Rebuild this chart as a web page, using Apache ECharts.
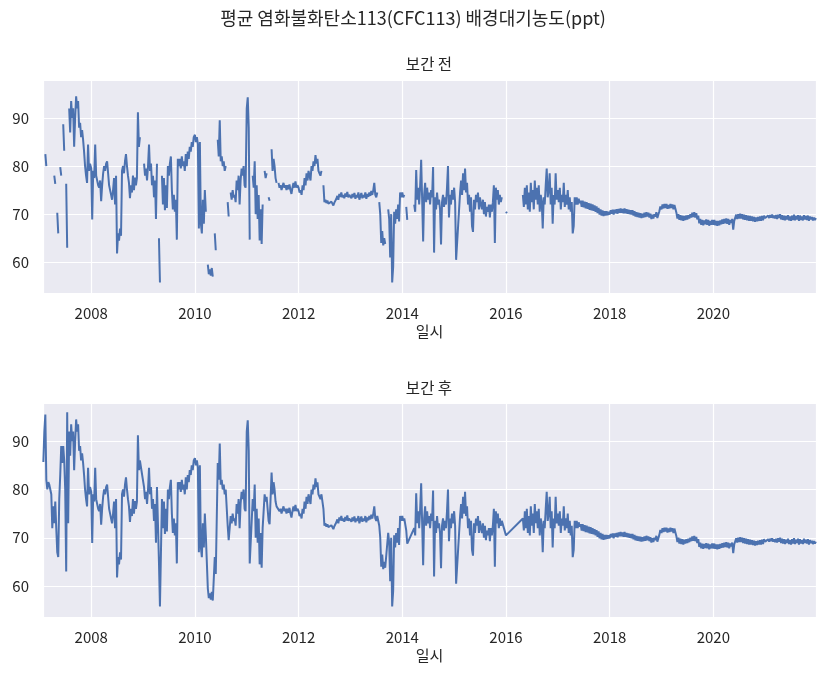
<!DOCTYPE html>
<html>
<head>
<meta charset="utf-8" />
<title>평균 염화불화탄소113(CFC113) 배경대기농도</title>
<script src="https://cdn.jsdelivr.net/npm/echarts@6.0.0/dist/echarts.min.js"></script>
<style>
  html, body { margin: 0; padding: 0; background: #ffffff; }
  #chart { width: 826px; height: 678px; }
</style>
</head>
<body>
<div id="chart"></div>
<script type="text/javascript">
// weekly readings (ppt), one array per year, week 0 = 1 Jan; null = no measurement
var y2007 = [null,null,null,null, null,null,82.5,80, null,null,null,null, null,null,null,78,
  76.3,null,70.3,66, null,79.8,78,null, 88.7,83.2,null,76.3, 63,null,92,87, 93.5,90,92,84,
  90,94.5,92,93.5, 88,89,86,87.5, 85.5,83,80,78, 76.5,84.5,79,80.5];
var y2008 = [79.5,68.9,79,77.5, 84.5,78,77,76, 75.5,77,72.7,76, 78.5,80,79,80.5, 81,78.5,76,75,
  74,73,75,77.5, 72,78,61.8,66, 64.5,67,65.5,79, 80,78.5,81,82.5, 80,78,76.5,73.3,
  76,74.5,78,75, 77.6,76,77.5,91.2, 84,86,null,null];
var y2009 = [null,80.5,78,79.5, 77,80,84.5,79, 80.5,76,78,73.5, 77,69,80.5,null, 65,55.8,null,78,
  72,77.5,70.8,76, 71.3,80,78,80.5, 82,75,71,74, 70.5,73,64.7,81.5, 80,81.5,79.5,82,
  80,81,79,82.5, 80,83,81.5,84, 83,85,84,86];
var y2010 = [86.5,85,86,84.5, 67,85,68,66, 73,68,75,70.5, null,59.5,57.5,58.5, 57.2,58.8,57,null,
  66,62.5,null,85.5, 82,89.5,81,82, 80,81,79,80, null,72.5,69.5,null, 74.5,73,75,73.5,
  74,72.5,77,75, 78,72,77,79.5, 78,80,76,75.5];
var y2011 = [92,94.3,88,64.7, null,null,78,75.5, 81,70,76,69, 74,64.5,71,63.8, 72,null,79,77.5,
  78.5,null,73.5,72.8, null,83.5,79,81.5, 80,77.5,76.5,null, 76.5,75.5,76,75, 75.8,76.5,75.5,76,
  75,76,75.2,76.2, 75,74.2,75.5,76.5, 75.5,76.8,75.5,76];
var y2012 = [75.5,74.5,75,74, 76,75,77.5,76, 78.5,77,79,78, 77,80,79,81, 80,82.3,80.5,81.5,
  79,78.5,78,79, null,76,72.5,73, 72.3,72.8,72.2,72.5, 72,72.6,72.2,71.8, 72.4,72,73.2,73.8,
  73,74.2,73.6,74.5, 73.5,74,73.3,74.3, 73.6,74.6,73.5,74];
var y2013 = [74,73.3,74.2,73.5, 74.4,73.2,74,73.5, 74.5,73,73.8,74.4, 73.3,74,73.5,74.5, 73.2,74.2,73.6,74.5,
  73.8,74.8,74,75, 76.5,74,73.5,74.5, null,72.5,70,64, 66.5,63.5,65,63.8, null,null,71,69,
  61,70,55.8,59, 70.5,68,71,69, 72,68.5,74.5,73.5];
var y2014 = [74.5,73.5,74,null, 71.5,68.8,null,null, null,null,null,null, 72,70.5,79.2,73, 75.5,72,76,81.3,
  73,64.3,74,76.5, 72.5,75.5,73,74.5, 72,75,73.5,79.8, 62,73.5,71,74.5, 72,73,71,63.7,
  72.5,74,71.5,73.5, 72,75.5,80,69.3, 74,72,75,73];
var y2015 = [75.5,72.5,60.5,64, 67.5,71,74.5,77, 74,78.5,75,79.5, 74.5,76.5,72,74, 70.5,73.5,67.5,66.3,
  73,71,74,72.5, 74.5,71,73.5,72, 71,73,70,72.5, 69.5,71.5,70.5,72, 69.3,72,70.5,72.5,
  76,64,75.5,73, 75,72,74,72.5, 73.5,null,null,null];
var y2016 = [70.5,70.2,null,null, null,null,null,null, null,null,null,null, null,null,null,null, null,74,71.5,75.5,
  72,76,71,74.5, 70.5,76.5,72.5,75, 71,77,73,75.5, 72,76,70.5,74, 72.5,67,73.5,72,
  76,79.5,73.5,75, 78.5,72,75.5,68, 74,72,78.5,73];
var y2017 = [75,72.5,75.5,71, 74,72.5,76.5,71.5, 74,72,75,71, 73.5,70.5,72.5,66, 67.5,73.5,72,73.5,
  72,73.2,72.3,72.8, 71.5,72.8,71.4,72.6, 71.2,72.5,71.1,72.3, 70.9,72.2,70.8,72, 70.7,71.8,70.5,71.6,
  70.2,71.3,69.9,71, 69.7,70.8,69.6,70.6, 69.7,70.6,69.8,70.5];
var y2018 = [69.9,70.8,70.1,70.9, 69.9,70.9,70.2,71, 70.1,71.1,70.3,71.2, 70.3,71.1,70.2,71.2, 70.2,71,70.1,70.9,
  70,70.8,69.9,70.8, 69.7,70.6,69.5,70.4, 69.4,70.3,69.3,70.2, 69.2,70.1,69.3,70.3, 69.4,70.4,69.5,70.3,
  69.3,70.1,69,69.9, 69.1,70,69.5,70.4, 69.2,68.9,70.6,71.6];
var y2019 = [71,72,71.2,72.1, 71.3,72.1,71.1,71.9, 71.2,72.1,71.3,72, 71,71.9,71.1,70.3, 69.1,70,68.8,69.8,
  68.7,69.7,68.6,69.6, 68.8,69.7,68.9,69.8, 69.1,70,69.3,70.3, 69.4,70.4,69.3,70.2, 68.9,69.7,68.1,69,
  67.8,68.8,67.7,68.7, 67.9,68.9,67.8,68.8, 67.6,68.6,67.8,68.8];
var y2020 = [67.8,68.8,67.7,68.6, 67.6,68.6,67.7,68.7, 67.9,68.9,68,69, 68.1,69.1,68,69, 67.8,68.8,68.2,69,
  66.8,68.6,68.9,69.9, 69,70,69.1,70.1, 69.1,70,68.9,69.9, 68.8,69.8,68.7,69.7, 68.6,69.6,68.6,69.5,
  68.5,69.4,68.4,69.3, 68.5,69.4,68.6,69.5, 68.6,69.6,68.7,69.7];
var y2021 = [69.2,69.6,69.1,69.7, 69.2,69.8,69.3,69.9, 69.2,69.7,69.1,69.8, 69,69.9,69.2,70, 68.9,69.8,68.8,69.7,
  68.7,69.6,68.9,69.8, 68.7,69.5,68.6,69.7, 68.8,69.9,68.7,69.6, 68.9,69.8,68.6,69.7, 68.8,69.5,68.7,69.8,
  68.9,69.6,68.8,69.7, 68.6,69.5,68.9,69.4, 68.7,69.3,68.8,69.2];

// first year after gap filling (보간 후) differs from the raw one
var after2007 = [null,null,null,null, 85.7,92,95.5,82, 80,81.5,81,80, 79,72,76.5,73,
  77.5,72,67,66, 78,83,89,85.5, 89,86,80,63, 96,73,92,87, 93.5,90,92,84,
  90,94.5,92,93.5, 88,89,86,87.5, 85.5,83,80,78, 76.5,84.5,79,80.5];

var years = [2007, 2008, 2009, 2010, 2011, 2012, 2013, 2014, 2015, 2016, 2017, 2018, 2019, 2020, 2021];
var beforeYears = [y2007, y2008, y2009, y2010, y2011, y2012, y2013, y2014, y2015, y2016, y2017, y2018, y2019, y2020, y2021];
var afterYears = [after2007].concat(beforeYears.slice(1));

var yTicks = [60, 70, 80, 90];
var xTicks = [2008, 2010, 2012, 2014, 2016, 2018, 2020];

// [decimal year, value] pairs
function toPoints(arrays) {
    var out = [];
    arrays.forEach(function (arr, k) {
        arr.forEach(function (v, i) {
            out.push([years[k] + i * 7 / 365.25, v]);
        });
    });
    return out;
}

var FONT = '"Noto Sans CJK KR", "Noto Sans", sans-serif';
var TEXT = '#262626';
var BLUE = '#4c72b0';

function xAxisFor(idx) {
    return {
        gridIndex: idx,
        type: 'value',
        min: 2007.07,
        max: 2021.98,
        splitNumber: 7,
        name: '일시',
        nameLocation: 'middle',
        nameGap: 31,
        nameTextStyle: { color: TEXT, fontSize: 15, fontFamily: FONT },
        axisLine: { show: false },
        axisTick: { show: false },
        axisLabel: {
            color: TEXT, fontSize: 15, fontFamily: FONT, margin: 13,
            showMinLabel: false, showMaxLabel: false,
            formatter: function (v) { return xTicks.indexOf(v) >= 0 ? String(v) : ''; }
        },
        splitLine: { show: true, lineStyle: { color: '#ffffff', width: 1.2 } }
    };
}

function yAxisFor(idx) {
    return {
        gridIndex: idx,
        type: 'value',
        min: 53.6,
        max: 97.9,
        splitNumber: 4,
        axisLine: { show: false },
        axisTick: { show: false },
        axisLabel: {
            color: TEXT, fontSize: 15, fontFamily: FONT, margin: 14,
            showMinLabel: false, showMaxLabel: false,
            formatter: function (v) { return yTicks.indexOf(v) >= 0 ? String(v) : ''; }
        },
        splitLine: { show: true, lineStyle: { color: '#ffffff', width: 1.2 } }
    };
}

var chart = echarts.init(document.getElementById('chart'), null, { renderer: 'canvas' });

var option = {
    animation: false,
    backgroundColor: '#ffffff',
    textStyle: { fontFamily: FONT },
    title: [{
        text: '평균 염화불화탄소113(CFC113) 배경대기농도(ppt)',
        left: 'center', top: 9, padding: 0,
        textStyle: { fontSize: 18, fontWeight: 'normal', color: TEXT, fontFamily: FONT }
    }, {
        text: '보간 전',
        left: 429, top: 56, padding: 0, textAlign: 'center',
        textStyle: { fontSize: 15.5, fontWeight: 'normal', color: TEXT, fontFamily: FONT }
    }, {
        text: '보간 후',
        left: 429, top: 380, padding: 0, textAlign: 'center',
        textStyle: { fontSize: 15.5, fontWeight: 'normal', color: TEXT, fontFamily: FONT }
    }],
    grid: [
        { left: 43, top: 80, width: 773, height: 213, show: true, backgroundColor: '#eaeaf2', borderWidth: 0 },
        { left: 43, top: 403, width: 773, height: 214, show: true, backgroundColor: '#eaeaf2', borderWidth: 0 }
    ],
    xAxis: [xAxisFor(0), xAxisFor(1)],
    yAxis: [yAxisFor(0), yAxisFor(1)],
    series: [{
        name: '보간 전',
        type: 'line',
        xAxisIndex: 0, yAxisIndex: 0,
        data: toPoints(beforeYears),
        showSymbol: false,
        connectNulls: false,
        lineStyle: { color: BLUE, width: 2 },
        itemStyle: { color: BLUE }
    }, {
        name: '보간 후',
        type: 'line',
        xAxisIndex: 1, yAxisIndex: 1,
        data: toPoints(afterYears),
        showSymbol: false,
        connectNulls: true,
        lineStyle: { color: BLUE, width: 2 },
        itemStyle: { color: BLUE }
    }]
};

chart.setOption(option);
</script>
</body>
</html>
